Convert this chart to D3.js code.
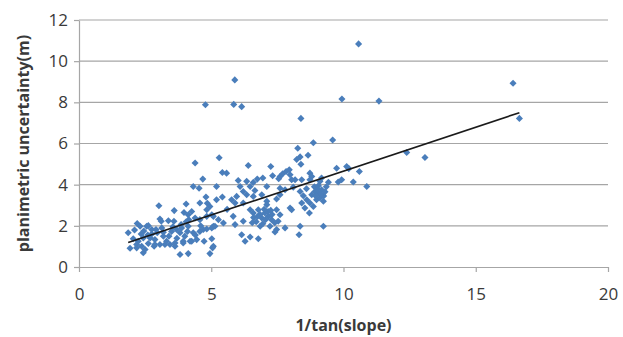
<!DOCTYPE html>
<html>
<head>
<meta charset="utf-8">
<script src="https://cdn.jsdelivr.net/npm/d3@7"></script>
<style>
  body { margin: 0; background: #fff; }
  #chart { width: 623px; height: 337px; }
  text { font-family: "Open Sans", "Noto Sans", sans-serif; fill: #3a3a3a; }
</style>
</head>
<body>
<div id="chart"></div>
<script>
// values
const xVals = [4.78,5.89,5.85,6.15,8.39,10.57,9.94,11.34,16.41,16.65,12.39,13.08,9.59,8.86,8.27,8.66,8.36,8.23,8.39,5.30,
  6.40,7.25,7.95,9.74,10.12,10.2,10.6,10.88,10.37,9.93,9.80,9.43,9.17,8.73,8.80,8.42,8.17,4.39,4.68,4.32,
  4.54,5.20,4.80,4.85,4.95,5.20,3.02,4.05,3.60,3.97,4.26,3.06,3.11,3.38,3.59,3.86,4.15,4.39,4.57,4.83,
  5.02,2.20,2.31,2.62,2.75,2.91,1.86,2.96,3.19,3.69,3.82,4.10,4.32,4.57,4.83,5.08,2.05,2.24,2.43,2.69,
  2.87,2.62,2.37,2.18,1.93,2.50,3.31,3.44,3.63,3.94,4.20,4.45,4.73,5.02,2.43,3.82,4.13,4.95,5.05,3.19,
  3.06,2.84,5.42,5.58,7.32,7.70,7.83,7.98,7.60,7.55,8.04,8.73,9.11,6.02,6.34,6.59,6.74,6.95,6.09,6.47,
  6.65,7.10,7.60,7.79,8.10,5.42,5.77,5.96,6.21,6.34,5.90,6.21,6.59,6.91,7.10,7.47,7.60,8.36,8.48,8.61,
  8.80,8.92,9.05,9.17,8.73,8.98,9.11,9.24,8.86,8.54,4.57,4.83,5.08,5.27,5.46,5.02,4.70,5.14,5.83,5.90,
  6.21,6.47,6.59,6.78,6.91,7.03,7.16,7.28,7.47,7.60,7.98,7.10,6.85,7.22,7.47,7.79,6.15,6.47,6.78,6.28,
  5.08,8.36,8.32,9.24,7.41,8.04,7.53,8.71,8.42,8.90,9.05,9.25,8.60,2.56,3.13,3.50,3.88,4.13,4.13,2.87,
  3.25,3.63,3.94,4.26,2.18,6.60,6.70,6.85,6.95,7.05,7.15,7.30,7.40,6.75,7.00,6.55,7.25,9.00,9.15,9.30,
  8.95,9.35,2.45,2.60,2.35,2.75,2.10,3.40,3.70,4.00,4.40,3.55,4.60,4.05,5.60];
const yVals = [7.88,9.09,7.90,7.79,7.22,10.84,8.16,8.06,8.93,7.22,5.56,5.32,6.17,6.04,5.77,5.43,5.35,5.22,4.99,5.31,
  4.93,4.88,4.72,4.80,4.88,4.78,4.64,3.91,4.13,4.24,4.13,4.12,4.32,4.56,4.40,4.24,4.24,5.05,4.27,3.91,
  3.83,3.91,3.40,3.10,2.94,3.27,2.98,3.06,2.74,2.65,2.70,2.33,2.22,2.25,2.22,2.06,2.30,2.38,2.30,2.46,
  2.54,2.11,1.98,2.01,1.82,1.82,1.66,1.66,1.69,1.82,1.66,1.73,1.66,1.73,1.85,1.98,1.37,1.25,1.41,1.41,
  1.33,1.14,1.01,0.93,0.91,0.85,1.25,1.09,1.17,1.17,1.25,1.33,1.25,1.37,0.69,0.61,0.65,0.65,0.93,1.49,
  1.09,1.01,4.59,4.56,4.43,4.53,4.64,4.48,4.40,4.29,4.24,4.24,4.16,4.20,4.16,4.11,4.27,4.32,3.91,3.91,
  3.72,3.91,3.83,3.75,3.88,3.40,3.27,3.43,3.67,3.51,3.11,3.11,3.43,3.51,3.19,3.30,3.51,3.67,3.46,3.27,
  3.51,3.67,3.59,3.75,3.11,3.27,3.35,3.19,2.94,2.87,3.11,2.78,2.46,2.30,2.14,1.90,1.82,1.98,2.46,2.06,
  2.22,2.78,2.62,2.78,2.38,2.62,2.46,2.30,2.78,2.54,2.87,3.03,1.98,1.98,1.82,1.90,1.57,1.46,1.37,1.25,
  1.01,1.98,1.57,1.98,1.70,2.78,2.22,2.62,3.11,3.90,3.95,3.45,3.80,1.98,1.90,1.73,1.90,1.98,2.54,1.09,
  1.09,1.01,1.25,1.25,1.09,2.40,2.20,2.55,2.10,2.30,2.70,2.55,2.15,2.45,2.80,2.15,2.75,3.80,3.55,3.65,
  3.45,3.90,1.75,1.55,1.60,1.60,1.80,1.50,1.40,1.50,1.55,1.95,2.00,2.20,2.80];
const xTicks = [0, 5, 10, 15, 20];
const yTicks = [0, 2, 4, 6, 8, 10, 12];
const xTitle = "1/tan(slope)";
const yTitle = "planimetric uncertainty(m)";

const points = xVals.map((x, i) => ({x: x, y: yVals[i]}));

const W = 623, H = 337;
const margin = {top: 20, right: 15, bottom: 70, left: 79};

const svg = d3.select("#chart").append("svg")
  .attr("width", W)
  .attr("height", H);

const x = d3.scaleLinear().domain([0, 20]).range([margin.left, W - margin.right]);
const y = d3.scaleLinear().domain([0, 12]).range([H - margin.bottom, margin.top]);

// horizontal gridlines
svg.append("g")
  .selectAll("line")
  .data(yTicks.filter(d => d > 0))
  .join("line")
  .attr("x1", margin.left).attr("x2", W - margin.right)
  .attr("y1", d => y(d)).attr("y2", d => y(d))
  .attr("stroke", "#a6a6a6")
  .attr("stroke-width", 1.2);

// axes
const xAxis = svg.append("g")
  .attr("transform", `translate(0,${y(0)})`)
  .call(d3.axisBottom(x).tickValues(xTicks).tickSize(5).tickPadding(16).tickSizeOuter(0));
const yAxis = svg.append("g")
  .attr("transform", `translate(${x(0)},0)`)
  .call(d3.axisLeft(y).tickValues(yTicks).tickSize(5).tickPadding(6).tickSizeOuter(0));

[xAxis, yAxis].forEach(g => {
  g.selectAll("path, line").attr("stroke", "#a6a6a6").attr("stroke-width", 1.2);
  g.selectAll("text").attr("font-size", 17).attr("fill", "#3a3a3a")
    .attr("font-family", '"Open Sans", sans-serif');
});

// points
const diamond = d3.symbol().type(d3.symbolSquare).size(25);
svg.append("g")
  .selectAll("path")
  .data(points)
  .join("path")
  .attr("d", diamond)
  .attr("transform", d => `translate(${x(d.x)},${y(d.y)}) rotate(45)`)
  .attr("fill", "#4a7ebb");

// linear trendline (least squares)
const mx = d3.mean(points, d => d.x), my = d3.mean(points, d => d.y);
const slope = d3.sum(points, d => (d.x - mx) * (d.y - my)) / d3.sum(points, d => (d.x - mx) ** 2);
const icpt = my - slope * mx;
const ext = d3.extent(points, d => d.x);
svg.append("path")
  .datum(ext.map(v => ({x: v, y: icpt + slope * v})))
  .attr("d", d3.line().x(d => x(d.x)).y(d => y(d.y)))
  .attr("stroke", "#1a1a1a")
  .attr("stroke-width", 1.6)
  .attr("fill", "none");

// titles
svg.append("text")
  .attr("x", (margin.left + W - margin.right) / 2)
  .attr("y", 331)
  .attr("text-anchor", "middle")
  .attr("font-size", 16)
  .attr("font-weight", "bold")
  .text(xTitle);

svg.append("text")
  .attr("transform", `translate(29,${(margin.top + H - margin.bottom) / 2}) rotate(-90)`)
  .attr("text-anchor", "middle")
  .attr("font-size", 16)
  .attr("font-weight", "bold")
  .text(yTitle);
</script>
</body>
</html>
